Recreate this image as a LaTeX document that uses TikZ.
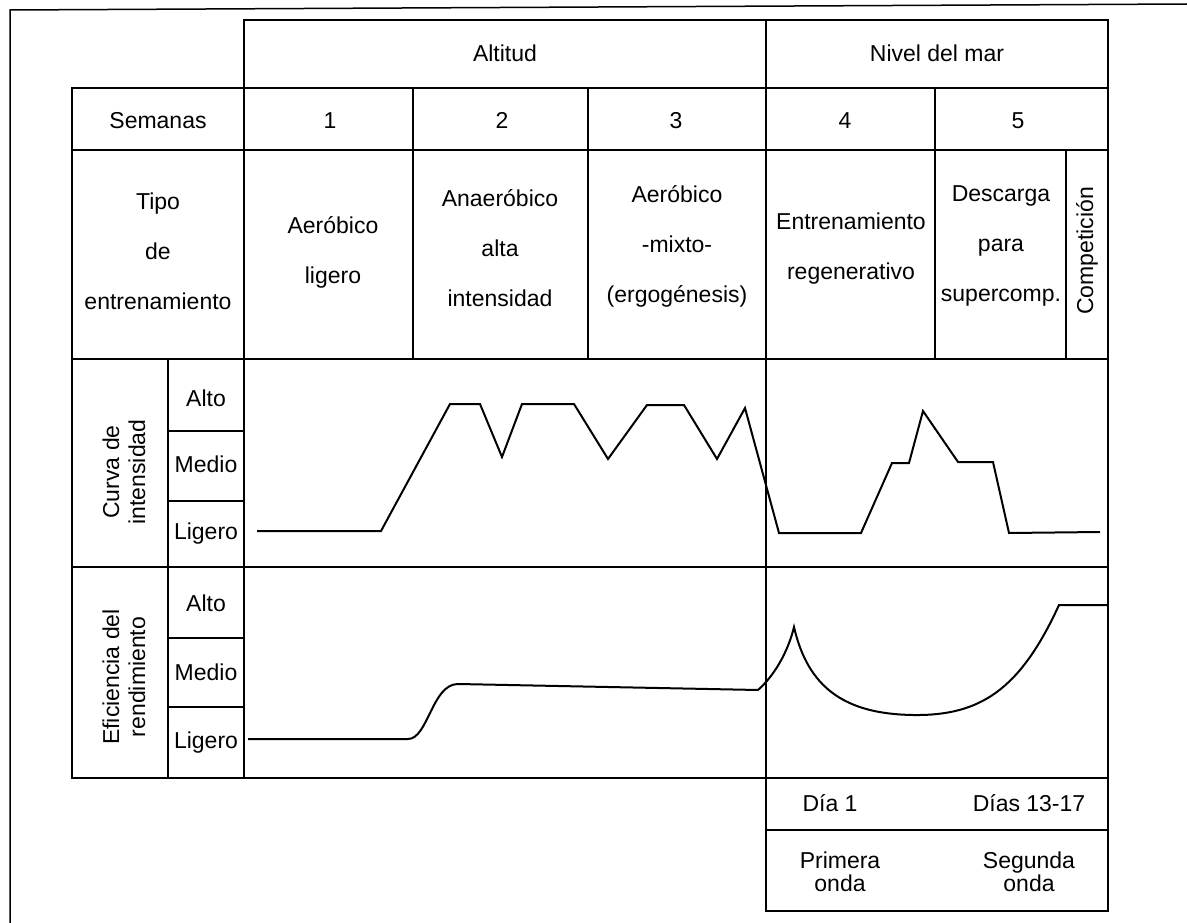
\documentclass[tikz,border=0pt]{standalone}
\usepackage{fontspec}
\setmainfont{Liberation Sans}
\begin{document}
\begin{tikzpicture}[x=1pt,y=-1pt,
  grid/.style={line width=1.8pt, line cap=rect},
  thinline/.style={line width=1.3pt},
  curve/.style={line width=2pt, line join=miter},
  lbl/.style={font=\fontsize{23}{26}\selectfont, inner sep=0pt, align=center},
  one/.style={font=\fontsize{23}{26}\selectfont, inner sep=0pt, text height=16.5pt, text depth=0pt},
  tall/.style={font=\fontsize{23}{50}\selectfont, inner sep=0pt, align=center},
  tight/.style={font=\fontsize{23}{23}\selectfont, inner sep=0pt, align=center}]
\useasboundingbox (0,0) rectangle (1187,923);
% outer page frame
\draw[line width=1.5pt] (10,923) -- (10,10) -- (1187,4);
% horizontal table lines
\draw[grid] (244,20) -- (1108,20);
\draw[grid] (72,88) -- (1108,88);
\draw[grid] (72,150) -- (1108,150);
\draw[grid] (72,359) -- (1108,359);
\draw[grid] (72,567) -- (1108,567);
\draw[grid] (72,778) -- (1108,778);
\draw[grid] (766,830) -- (1108,830);
\draw[grid] (766,911) -- (1108,911);
\foreach \yy in {431,501,638,707} \draw[grid] (168,\yy) -- (244,\yy);
% vertical table lines
\draw[grid] (72,88) -- (72,778);
\draw[grid] (244,20) -- (244,778);
\draw[grid] (168,359) -- (168,778);
\draw[grid] (413,88) -- (413,359);
\draw[grid] (588,88) -- (588,359);
\draw[grid] (766,20) -- (766,359);
\draw[thinline] (766,359) -- (766,911);
\draw[grid] (935,88) -- (935,359);
\draw[grid] (1066,150) -- (1066,359);
\draw[grid] (1108,20) -- (1108,911);
% header texts
\node[one] (altitud) at (505,53) {Altitud};
\node[one] (nivel) at (937,53) {Nivel del mar};
\node[one] (semanas) at (158,120) {Semanas};
\node[one] (w1) at (330,120) {1};
\node[one] (w2) at (502,120) {2};
\node[one] (w3) at (676,120) {3};
\node[one] (w4) at (845,120) {4};
\node[one] (w5) at (1018,120) {5};
\node[tall] (tipo) at (158,251) {Tipo\\de\\entrenamiento};
\node[tall] (t1) at (333,252) {Aeróbico\\ligero};
\node[tall] (t2) at (500,248) {Anaeróbico\\alta\\intensidad};
\node[tall] (t3) at (677,246) {Aeróbico\\-mixto-\\(ergogénesis)};
\node[tall] (t4) at (851,249) {Entrenamiento\\regenerativo};
\node[tall] (t5) at (1001,246) {Descarga\\para\\supercomp.};
\node[lbl, rotate=90] (comp) at (1087,251) {Competición};
% side labels
\node[lbl, rotate=90] (curva) at (124,472) {Curva de\\intensidad};
\node[lbl, rotate=90] (efic) at (124,677) {Eficiencia del\\rendimiento};
\node[one] (ia) at (206,398) {Alto};
\node[one] (im) at (206,464) {Medio};
\node[one] (il) at (206,531) {Ligero};
\node[one] (ea) at (206,603) {Alto};
\node[one] (em) at (206,672) {Medio};
\node[one] (el) at (206,740) {Ligero};
% bottom boxes
\node[one] (dia1) at (830,803) {Día 1};
\node[one] (dias) at (1029,803) {Días 13-17};
\node[tight] (primera) at (840,872) {Primera\\onda};
\node[tight] (segunda) at (1029,872) {Segunda\\onda};
% intensity curve
\draw[curve] (257,531) -- (381,531) -- (450,404) -- (480,404) -- (502,457) -- (522,404)
  -- (574,404) -- (608,459) -- (647,405) -- (684,405) -- (717,459) -- (745,408)
  -- (779,533) -- (861,533) -- (892,463) -- (909,463) -- (923,411) -- (958,462)
  -- (993,462) -- (1009,533) -- (1100,532);
% efficiency curve
\draw[curve] (248,739) -- (408,739) .. controls (428,739) and (432,684) .. (458,684)
  -- (758,690) .. controls (774,676) and (788,652) .. (794,627)
  .. controls (808,688) and (845,714) .. (913,715)
  .. controls (980,716) and (1020,690) .. (1059,605) -- (1107,605);
\end{tikzpicture}
\end{document}
